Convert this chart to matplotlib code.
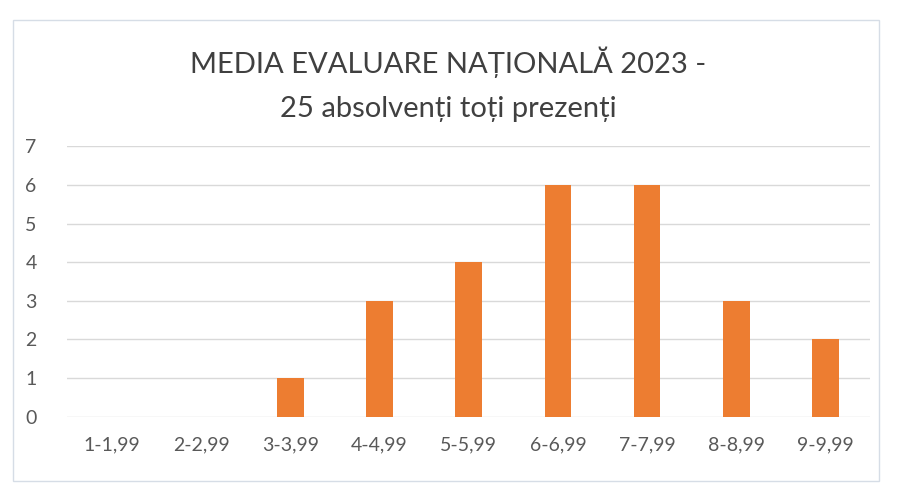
import matplotlib.pyplot as plt
from matplotlib.patches import Rectangle

# data
categories = ['1-1,99', '2-2,99', '3-3,99', '4-4,99', '5-5,99',
              '6-6,99', '7-7,99', '8-8,99', '9-9,99']
counts = [0, 0, 1, 3, 4, 6, 6, 3, 2]
yticks = [0, 1, 2, 3, 4, 5, 6, 7]

plt.rcParams['font.family'] = ['Lato', 'DejaVu Sans']

fig = plt.figure(figsize=(8.97, 4.96), dpi=100)
ax = fig.add_axes([0.075, 0.16, 0.895, 0.545])

# chart area border
fig.patches.append(Rectangle((0.015, 0.03), 0.965, 0.93, transform=fig.transFigure,
                             fill=False, edgecolor='#d6dde6', linewidth=1))

x = range(len(categories))
ax.bar(x, counts, width=0.3, color='#ED7D31', zorder=3)

ax.set_ylim(0, 7)
ax.set_xlim(-0.5, len(categories) - 0.5)
ax.set_yticks(yticks)
ax.set_xticks(list(x))
ax.set_xticklabels(categories)
ax.tick_params(axis='both', length=0, labelsize=14, labelcolor='#595959')
ax.tick_params(axis='x', pad=14)
ax.tick_params(axis='y', pad=22)
ax.grid(axis='y', color='#d9d9d9', linewidth=1, zorder=0)
for s in ax.spines.values():
    s.set_visible(False)

fig.text(0.5, 0.875, 'MEDIA EVALUARE NAȚIONALĂ 2023 -', ha='center',
         va='center', fontsize=21, color='#404040')
fig.text(0.5, 0.78, '25 absolvenți toți prezenți', ha='center',
         va='center', fontsize=21, color='#404040')

plt.savefig('out.png', dpi=100)
